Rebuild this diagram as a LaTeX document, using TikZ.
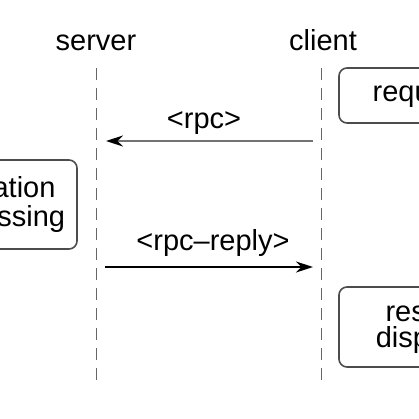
\documentclass[tikz,border=0pt]{standalone}
\usepackage{fontspec}
\setmainfont{Liberation Sans}
\usetikzlibrary{arrows.meta}

\begin{document}
\begin{tikzpicture}[x=0.5pt, y=-0.5pt,
        actor/.style={font=\fontsize{14.5}{13}\selectfont, anchor=base},
        lifeline/.style={draw=black!60, line width=0.5pt, dash pattern=on 6pt off 4pt},
        task/.style={draw=black!70, line width=0.8pt, rounded corners=4pt, align=center,
            minimum width=82pt, font=\fontsize{14.5}{13}\selectfont},
        msg/.style={font=\fontsize{14.5}{13}\selectfont, anchor=base}]
        \useasboundingbox (0,0) rectangle (419,419);
        \clip (0,0) rectangle (419,419);

        % Draw actors
        \node[actor] (server) at (96,50) {server};
        \node[actor] (client) at (323,50) {client};

        % lifelines
        \coordinate (srv_top) at (96,68);
        \coordinate (srv_bot) at (96,380);
        \coordinate (cli_top) at (322,68);
        \coordinate (cli_bot) at (322,387);
        \draw[lifeline] (srv_top) -- (srv_bot);
        \draw[lifeline] (cli_top) -- (cli_bot);

        % tasks
        \node[task, minimum height=27.5pt] (request) at (421,95.5) {request};
        \node[task, minimum height=44.5pt] (operation) at (-5,204.5) {operation\\processing};
        \node[task, minimum height=40pt] (result) at (421,327) {result\\display};

        % messages
        \coordinate (cli_1) at (322,141);
        \coordinate (srv_1) at (96,141);
        \draw[draw=black!55, line width=0.7pt, shorten <=4.5pt, shorten >=5pt,
            -{Stealth[length=8.5pt, width=5.5pt, color=black]}] (cli_1) -- (srv_1);
        \node[msg] (rpc) at (204,128) {<rpc>};

        \coordinate (srv_2) at (96,267);
        \coordinate (cli_2) at (322,267);
        \draw[line width=1pt, shorten <=4.5pt, shorten >=4.5pt,
            -{Stealth[length=8.5pt, width=5.5pt]}] (srv_2) -- (cli_2);
        \node[msg] (reply) at (213,250) {<rpc--reply>};
    \end{tikzpicture}
\end{document}
